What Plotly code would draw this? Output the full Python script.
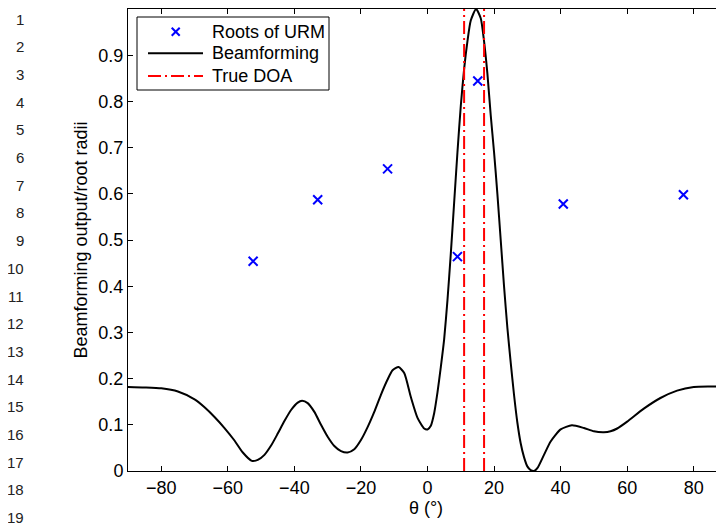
import plotly.graph_objects as go

# Beamforming output
bf_theta = [-90, -85, -80, -75, -70, -67, -64, -61, -58, -55.5, -52.8, -51, -49, -47, -45, -43,
            -41, -39, -37.7, -36, -34, -32, -30, -28, -26, -24, -22, -20, -18, -16, -14, -12,
            -10.5, -8.7, -7, -5, -3, -1, 0, 1, 2, 3, 4, 5, 6, 7, 8, 9, 10, 11, 12, 13, 14.6,
            16, 17, 18, 19, 20, 21, 22, 23, 24, 25, 26, 27, 28, 29, 30, 31, 32, 33, 35, 37,
            40, 43.4, 47, 50, 53, 55, 57, 60, 65, 70, 75, 80, 85, 90]
bf_value = [0.182, 0.181, 0.179, 0.172, 0.155, 0.138, 0.117, 0.093, 0.066, 0.040, 0.022, 0.024,
            0.035, 0.055, 0.081, 0.108, 0.132, 0.148, 0.152, 0.147, 0.128, 0.100, 0.074, 0.054,
            0.043, 0.040, 0.047, 0.067, 0.095, 0.128, 0.165, 0.198, 0.218, 0.225, 0.212, 0.160,
            0.115, 0.092, 0.090, 0.098, 0.125, 0.170, 0.225, 0.285, 0.370, 0.470, 0.580, 0.690,
            0.790, 0.870, 0.930, 0.975, 1.000, 0.980, 0.930, 0.860, 0.770, 0.690, 0.600, 0.500,
            0.400, 0.310, 0.235, 0.165, 0.105, 0.060, 0.030, 0.010, 0.002, 0.000, 0.006, 0.035,
            0.064, 0.090, 0.099, 0.093, 0.086, 0.084, 0.086, 0.092, 0.107, 0.135, 0.158, 0.174,
            0.182, 0.183, 0.183]

# Roots of URM
root_theta = [-52.4, -33.0, -12.0, 9.0, 15.1, 40.8, 76.9]
root_radius = [0.454, 0.587, 0.654, 0.464, 0.844, 0.578, 0.598]

# True DOAs
doa = [11, 17]

x_ticks = [-80, -60, -40, -20, 0, 20, 40, 60, 80]
y_ticks = [0, 0.1, 0.2, 0.3, 0.4, 0.5, 0.6, 0.7, 0.8, 0.9, 1]
line_numbers = [str(i) for i in range(1, 20)]
legend_names = ["Roots of URM", "Beamforming", "True DOA"]

FONT = "Liberation Sans, Arial, Helvetica, sans-serif"
FS = 18
BLUE, RED = "#0000ff", "#ff0000"
DASHDOT = "13px,4px,2px,4px"

# figure geometry (the page adds an 8px body margin)
W, H = 716, 515
L, T = 120, 1
PR, PB = 716, 463          # plot right / bottom in figure pixels
R, B = W - PR, H - PB
pw, ph = PR - L, PB - T
X_MAX = -90 + 180 * pw / 599.0   # axis continues past the window edge to 90


def px(fx):
    return (fx - L) / pw


def py(fy):
    return (PB - fy) / ph


fig = go.Figure()
fig.add_trace(go.Scatter(
    x=root_theta, y=root_radius, mode="markers", name=legend_names[0],
    marker=dict(symbol="x-thin", size=9, color=BLUE, line=dict(color=BLUE, width=2))))
fig.add_trace(go.Scatter(
    x=bf_theta, y=bf_value, mode="lines", name=legend_names[1],
    line=dict(color="black", width=2, shape="spline", smoothing=0.6)))
dx, dy = [], []
for d in doa:
    dx += [d, d, None]
    dy += [0, 1, None]
fig.add_trace(go.Scatter(
    x=dx, y=dy, mode="lines", name=legend_names[2],
    line=dict(color=RED, width=2, dash=DASHDOT)))
# invisible trace carrying the right-hand y axis (ticks only)
fig.add_trace(go.Scatter(x=[0], y=[0], yaxis="y2", mode="markers",
                         marker=dict(opacity=0), hoverinfo="skip", showlegend=False))

# page line numbers in the left margin
for i, s in enumerate(line_numbers):
    fig.add_annotation(
        text=s, xref="paper", yref="paper", x=px(18), y=py(11 + 27.7 * i),
        xanchor="right", yanchor="middle", showarrow=False,
        font=dict(family=FONT, size=15, color="#222222"))

# legend box (drawn by hand to match the reference spacing)
shapes = [dict(type="rect", xref="paper", yref="paper",
               x0=px(129), x1=px(321), y0=py(9), y1=py(82),
               line=dict(color="black", width=1), fillcolor="white", layer="above")]
rows = [23.7, 45.3, 68.0]
mx, mr = 167.7, 4
shapes += [
    dict(type="line", xref="paper", yref="paper", x0=px(mx - mr), x1=px(mx + mr),
         y0=py(rows[0] - mr), y1=py(rows[0] + mr), line=dict(color=BLUE, width=2), layer="above"),
    dict(type="line", xref="paper", yref="paper", x0=px(mx - mr), x1=px(mx + mr),
         y0=py(rows[0] + mr), y1=py(rows[0] - mr), line=dict(color=BLUE, width=2), layer="above"),
    dict(type="line", xref="paper", yref="paper", x0=px(140), x1=px(195),
         y0=py(rows[1]), y1=py(rows[1]), line=dict(color="black", width=2), layer="above"),
    dict(type="line", xref="paper", yref="paper", x0=px(140), x1=px(195),
         y0=py(rows[2]), y1=py(rows[2]), line=dict(color=RED, width=2, dash=DASHDOT), layer="above"),
]
for name, ry in zip(legend_names, rows):
    fig.add_annotation(
        text=name, xref="paper", yref="paper", x=px(202), y=py(ry),
        xanchor="left", yanchor="middle", showarrow=False,
        font=dict(family=FONT, size=FS, color="black"))

fig.update_layout(
    width=W, height=H,
    margin=dict(l=L, r=R, t=T, b=B, autoexpand=False),
    paper_bgcolor="white", plot_bgcolor="white",
    font=dict(family=FONT, size=FS, color="black"),
    showlegend=False,
    shapes=shapes,
    xaxis=dict(
        range=[-90, X_MAX], tickmode="array", tickvals=x_ticks,
        ticks="inside", ticklen=5, tickcolor="black", tickwidth=1,
        showline=True, linecolor="black", linewidth=1, mirror="ticks",
        showgrid=False, zeroline=False,
        title=dict(text="θ (°)", standoff=0, font=dict(family=FONT, size=FS)),
        tickfont=dict(family=FONT, size=FS)),
    yaxis=dict(
        range=[0, 1], tickmode="array", tickvals=y_ticks,
        ticktext=[("%g" % v) for v in y_ticks],
        ticks="inside", ticklen=5, tickcolor="black", tickwidth=1,
        showline=True, linecolor="black", linewidth=1, mirror=False,
        showgrid=False, zeroline=False,
        title=dict(text="Beamforming output/root radii", standoff=6,
                   font=dict(family=FONT, size=FS)),
        tickfont=dict(family=FONT, size=FS)),
    yaxis2=dict(
        range=[0, 1], overlaying="y", side="right", anchor="x",
        tickmode="array", tickvals=y_ticks, ticks="inside", ticklen=4,
        tickcolor="black", showticklabels=False, showline=False,
        showgrid=False, zeroline=False),
)

fig.write_html("out.html")
